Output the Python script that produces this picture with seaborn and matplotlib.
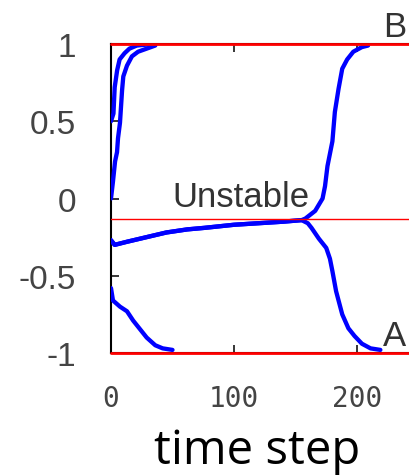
import matplotlib
matplotlib.use("Agg")
import matplotlib.pyplot as plt
import seaborn as sns
import numpy as np
import pandas as pd

sns.set_theme(style="white")

# trajectory starting at 0.5 (goes to B)
t_half = [0, 2, 3, 5, 7, 11, 15, 21, 34]
y_half = [0.50, 0.55, 0.72, 0.83, 0.90, 0.94, 0.97, 0.99, 1.0]

# trajectory starting at 0 (goes to B)
t_zero = [0, 1.6, 3.3, 4.9, 5.7, 7.3, 9, 10, 13, 17, 22, 29, 36]
y_zero = [0.0, 0.11, 0.24, 0.30, 0.39, 0.49, 0.70, 0.79, 0.86, 0.92, 0.95, 0.97, 0.99]

# two trajectories starting near -0.3, shared slow part towards the unstable point
t_mid = [0, 3, 13, 29, 45, 62, 76, 100, 120, 140, 155]
y_mid = [-0.27, -0.30, -0.28, -0.25, -0.22, -0.20, -0.19, -0.17, -0.16, -0.15, -0.14]

# branch that leaves the unstable point upwards (to B)
t_up = [158, 166, 172, 174, 176, 180, 182, 185, 188, 192, 197, 204, 209]
y_up = [-0.13, -0.08, 0.0, 0.08, 0.21, 0.37, 0.56, 0.71, 0.84, 0.90, 0.95, 0.98, 0.99]

# branch that leaves the unstable point downwards (to A)
t_down = [160, 163, 169, 175, 178, 180, 183, 186, 188, 193, 198, 204, 211, 219]
y_down = [-0.16, -0.19, -0.26, -0.32, -0.39, -0.47, -0.60, -0.69, -0.75, -0.84, -0.89, -0.94, -0.97, -0.98]

# trajectory starting at -0.58 (goes to A)
t_low = [0, 1.6, 7.3, 13, 18, 24, 29, 36, 42, 50]
y_low = [-0.58, -0.66, -0.70, -0.73, -0.79, -0.85, -0.90, -0.95, -0.97, -0.98]

stable_levels = [1.0, -1.0]
unstable_level = -0.135

y_ticks = [1, 0.5, 0, -0.5, -1]
y_ticklabels = ["1", "0.5", "0", "-0.5", "-1"]
x_ticks = [0, 100, 200]


def build_frame():
    runs = [
        (t_half, y_half),
        (t_zero, y_zero),
        (t_mid + t_up, y_mid + y_up),
        (t_mid + t_down, y_mid + y_down),
        (t_low, y_low),
    ]
    parts = []
    for i, (t, y) in enumerate(runs):
        parts.append(pd.DataFrame({"t": t, "v": y, "run": i}))
    return pd.concat(parts, ignore_index=True)


df = build_frame()

fig = plt.figure(figsize=(4.1, 4.77), dpi=100)
ax = fig.add_axes([111 / 410, 123 / 477, 307.5 / 410, 309 / 477])

sns.lineplot(data=df, x="t", y="v", units="run", estimator=None, sort=False,
             color="#0000ff", lw=3.1, ax=ax, legend=False, zorder=3)

for lev in stable_levels:
    ax.axhline(lev, color="red", lw=2.0, zorder=5, clip_on=False)
ax.axhline(unstable_level, color="red", lw=1.0, zorder=5)

ax.set_xlim(0, 250)
ax.set_ylim(-1, 1)

ax.set_yticks(y_ticks)
ax.set_yticklabels(y_ticklabels, fontfamily="Liberation Sans", fontsize=24, color="#444444")
ax.set_xticks(x_ticks)
ax.set_xticklabels([str(x) for x in x_ticks], fontfamily="DejaVu Sans Mono",
                   fontsize=20, color="#444444")
ax.tick_params(axis="y", direction="in", length=6, width=1.1, pad=25,
               left=True, right=True, color="black")
ax.tick_params(axis="x", direction="in", length=6, width=1.1, pad=22,
               bottom=True, top=True, color="black")

for s in ax.spines.values():
    s.set_color("black")
    s.set_linewidth(1.5)

ax.set_xlabel("time step", fontfamily="Open Sans", fontsize=34, color="black", labelpad=11)
ax.xaxis.label.set_x(0.475)
ax.set_ylabel("")

txt = dict(fontfamily="Liberation Sans", fontsize=25, color="#333333", va="baseline")
ax.text(50, -0.05, "Unstable", ha="left", **txt)
ax.text(221, 1.05, "B", ha="left", **txt)
ax.text(221, -0.95, "A", ha="left", **txt)

fig.savefig("out.png", dpi=100)
